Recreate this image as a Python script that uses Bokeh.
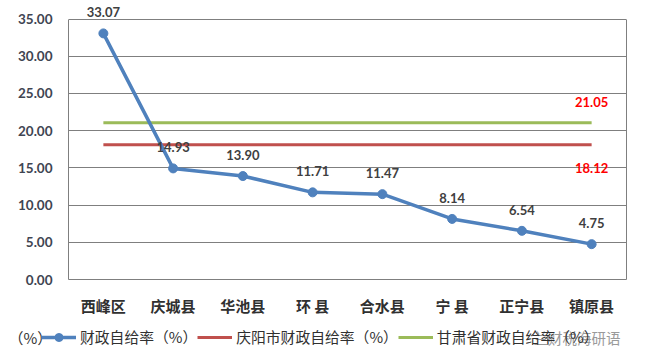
from bokeh.plotting import figure
from bokeh.models import (ColumnDataSource, Range1d, FactorRange, Legend, LegendItem,
                          Label, LabelSet, LinearAxis, FixedTicker, NumeralTickFormatter)
from bokeh.core.properties import value
from bokeh.embed import file_html
from bokeh.resources import INLINE

counties = ["西峰区", "庆城县", "华池县", "环 县", "合水县", "宁 县", "正宁县", "镇原县"]
self_sufficiency = [33.07, 14.93, 13.90, 11.71, 11.47, 8.14, 6.54, 4.75]
qingyang_rate = 18.12
gansu_rate = 21.05
y_ticks = [0, 5, 10, 15, 20, 25, 30, 35]
series_names = ["财政自给率（%）", "庆阳市财政自给率（%）", "甘肃省财政自给率（%）"]
unit_label = "（%）"
watermark = "兰财税海研语"

CJK = "Noto Sans CJK SC"
NUM = "Lato"
BLUE, RED, GREEN = "#4F81BD", "#C0504D", "#9BBB59"
FRAME = "#7f7f7f"

# main chart: frame spans a bit above 35 so the top data label is not clipped
p = figure(width=647, height=318, x_range=FactorRange(*counties, range_padding=0),
           y_range=Range1d(0, 37.49), output_backend="svg", toolbar_location=None,
           min_border_left=68, min_border_right=21, min_border_top=0, min_border_bottom=32)
p.outline_line_color = None

p.xgrid.grid_line_color = None
p.ygrid.grid_line_color = FRAME
p.ygrid.ticker = FixedTicker(ticks=y_ticks)

p.yaxis.ticker = FixedTicker(ticks=y_ticks)
p.yaxis.bounds = (0, 35)
p.yaxis.formatter = NumeralTickFormatter(format="0.00")
p.yaxis.axis_line_color = FRAME
p.yaxis.major_tick_line_color = None
p.yaxis.minor_tick_line_color = None
p.yaxis.major_label_text_font = NUM
p.yaxis.major_label_text_font_size = "13.5px"
p.yaxis.major_label_text_font_style = "bold"
p.yaxis.major_label_text_color = "#3f4552"
p.yaxis.major_label_standoff = 10

p.xaxis.axis_line_color = FRAME
p.xaxis.major_tick_line_color = None
p.xaxis.minor_tick_line_color = None
p.xaxis.major_label_text_font = CJK
p.xaxis.major_label_text_font_size = "15px"
p.xaxis.major_label_text_font_style = "bold"
p.xaxis.major_label_text_color = "#303030"
p.xaxis.major_label_standoff = 9

right = LinearAxis(bounds=(0, 35), ticker=FixedTicker(ticks=[]), axis_line_color=FRAME,
                   major_tick_line_color=None, minor_tick_line_color=None,
                   major_label_text_font_size="0px", major_label_standoff=0)
p.add_layout(right, "right")

n = len(counties)
src = ColumnDataSource(dict(x=counties, y=self_sufficiency,
                            lbl=["%.2f" % v for v in self_sufficiency],
                            qy=[qingyang_rate] * n, gs=[gansu_rate] * n))

p.line("x", "gs", source=src, line_color=GREEN, line_width=3)
p.line("x", "qy", source=src, line_color=RED, line_width=3)
p.line("x", "y", source=src, line_color=BLUE, line_width=3.5)
p.scatter("x", "y", source=src, size=9, fill_color=BLUE, line_color=BLUE)

p.add_layout(LabelSet(x="x", y="y", text="lbl", source=src, text_font=value(NUM),
                      text_font_size="13px", text_font_style="bold", text_color="#404040",
                      text_align="center", text_baseline="middle", y_offset=21))

last = counties[-1]
tsrc = ColumnDataSource(dict(x=[last, last], y=[gansu_rate, qingyang_rate],
                             t=["%.2f" % gansu_rate, "%.2f" % qingyang_rate],
                             yo=[21, -23]))
p.add_layout(LabelSet(x="x", y="y", text="t", source=tsrc, text_font=value(NUM),
                      text_font_size="13px", text_font_style="bold", text_color="#FF0000",
                      text_align="center", text_baseline="middle", y_offset="yo"))

# legend strip (separate root, so its frame is not aligned to the chart's)
leg = figure(width=647, height=44, x_range=Range1d(0, 647), y_range=Range1d(0, 44),
             output_backend="svg", toolbar_location=None,
             min_border_left=0, min_border_right=0, min_border_top=0, min_border_bottom=0)
leg.axis.visible = False
leg.grid.visible = False
leg.outline_line_color = None

nan = float("nan")
dummy = ColumnDataSource(dict(x=[nan], y=[nan]))
l1 = leg.line("x", "y", source=dummy, line_color=BLUE, line_width=3.5)
l1b = leg.scatter("x", "y", source=dummy, size=9, fill_color=BLUE, line_color=BLUE)
l2 = leg.line("x", "y", source=dummy, line_color=RED, line_width=3)
l3 = leg.line("x", "y", source=dummy, line_color=GREEN, line_width=3)

legend = Legend(items=[
    LegendItem(label=series_names[0], renderers=[l1, l1b]),
    LegendItem(label=series_names[1], renderers=[l2]),
    LegendItem(label=series_names[2], renderers=[l3]),
], orientation="horizontal", location=(41, 15), border_line_color=None,
   background_fill_alpha=0, label_text_font=CJK, label_text_font_size="14.8px",
   label_text_color="#303030", label_standoff=4, glyph_width=35, glyph_height=20,
   label_height=20, spacing=0, padding=0, margin=0)
leg.add_layout(legend)

leg.add_layout(Label(x=8, y=25, text=unit_label, text_font=CJK, text_font_size="15px",
                     text_color="#303030", text_baseline="middle"))
leg.add_layout(Label(x=533, y=25, text=watermark, text_font=CJK, text_font_size="14.5px",
                     text_color="#9a9a9a", text_baseline="middle",
                     background_fill_color="white", background_fill_alpha=0.8))

open("out.html", "w").write(file_html([p, leg], INLINE))
